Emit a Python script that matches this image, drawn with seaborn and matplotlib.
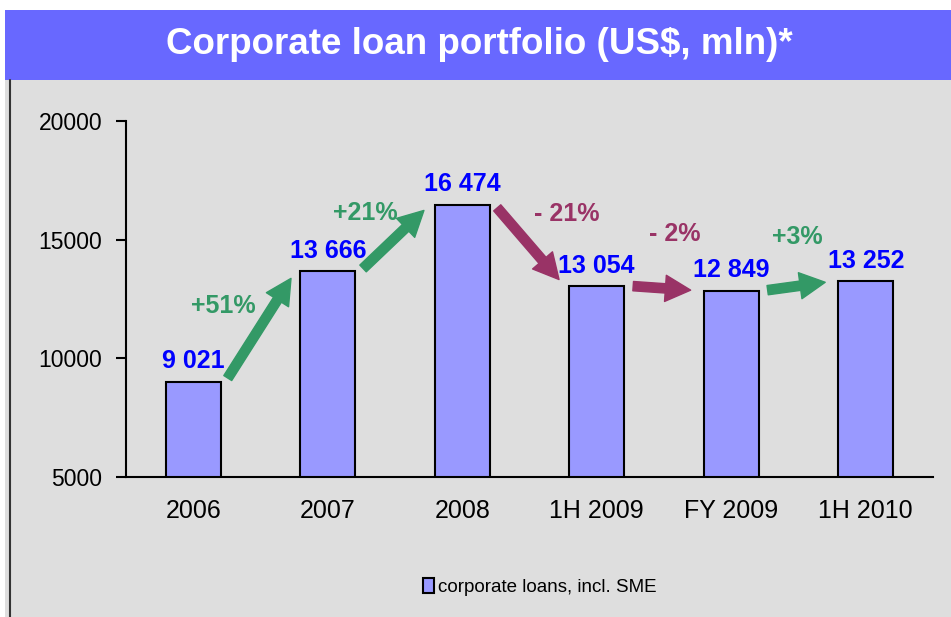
import numpy as np
import pandas as pd
import matplotlib
matplotlib.use("Agg")
import matplotlib.pyplot as plt
from matplotlib.patches import Rectangle
import seaborn as sns

# data
periods = ["2006", "2007", "2008", "1H 2009", "FY 2009", "1H 2010"]
loans = [9021, 13666, 16474, 13054, 12849, 13252]
series_name = "corporate loans, incl. SME"

# label offsets for the growth annotations (x shift from left bar, y above higher bar)
growth_dx = [0.22, 0.28, 0.78, 0.58, 0.49]
growth_dy = [-1460, -350, -390, 2180, 1860]

BAR_COLOR = "#9999FF"
UP_COLOR = "#339966"
DOWN_COLOR = "#993366"
VALUE_COLOR = "#0000FF"
BG = "#DEDEDE"

sns.set_style("white")
plt.rcParams["font.family"] = ["Liberation Sans", "DejaVu Sans"]
plt.rcParams["text.color"] = "black"
plt.rcParams["xtick.color"] = "black"
plt.rcParams["ytick.color"] = "black"

fig = plt.figure(figsize=(9.51, 6.17), dpi=100)
fig.patch.set_facecolor(BG)
# white strip above the banner and title banner
fig.patches.append(Rectangle((0, 1 - 10 / 617), 1, 10 / 617, transform=fig.transFigure,
                             facecolor="white", edgecolor="none", zorder=0))
fig.patches.append(Rectangle((5 / 951, 1 - 80 / 617), 1, 70 / 617, transform=fig.transFigure,
                             facecolor="#6868FF", edgecolor="none", zorder=1))
fig.patches.append(Rectangle((0, 0), 5 / 951, 1 - 10 / 617, transform=fig.transFigure,
                             facecolor="white", edgecolor="none", zorder=0))
fig.lines.append(plt.Line2D([10 / 951, 10 / 951], [0, 1 - 80 / 617], transform=fig.transFigure,
                            color="#333333", lw=1.5))
fig.text(479 / 951, 1 - 45 / 617, "Corporate loan portfolio (US$, mln)*", color="white",
         fontsize=26.5, fontweight="bold", ha="center", va="center")

ax = fig.add_axes([126 / 951, 1 - 477 / 617, (933 - 126) / 951, (477 - 121) / 617])
ax.set_facecolor("none")

df = pd.DataFrame({"period": periods, "loans": loans})
sns.barplot(data=df, x="period", y="loans", color=BAR_COLOR, width=0.41,
            edgecolor="black", linewidth=1.5, saturation=1, ax=ax)

ax.set_ylim(5000, 20000)
ax.set_xlim(-0.5, len(periods) - 0.5)
ax.set_yticks([5000, 10000, 15000, 20000])
ax.set_xlabel("")
ax.set_ylabel("")
for s in ["top", "right"]:
    ax.spines[s].set_visible(False)
for s in ["left", "bottom"]:
    ax.spines[s].set_color("black")
    ax.spines[s].set_linewidth(1.5)
ax.tick_params(axis="y", left=True, direction="out", length=7, width=1.5, labelsize=16.5,
               pad=10, colors="black")
ax.tick_params(axis="x", bottom=False, length=0, labelsize=18, pad=16, colors="black")

# value labels
for i, v in enumerate(loans):
    ax.text(i, v + 350, f"{v:,}".replace(",", " "), ha="center", va="bottom",
            fontsize=18, fontweight="bold", color=VALUE_COLOR)

# growth arrows and labels
for i in range(len(loans) - 1):
    a, b = loans[i], loans[i + 1]
    pct = round((b / a - 1) * 100)
    color = UP_COLOR if pct >= 0 else DOWN_COLOR
    txt = f"+{pct}%" if pct >= 0 else f"- {abs(pct)}%"
    ax.annotate("", xy=(i + 0.76, b), xytext=(i + 0.24, a),
                arrowprops=dict(arrowstyle="simple,head_length=1.3,head_width=1.35,tail_width=0.48",
                                color=color, mutation_scale=14, shrinkA=3, shrinkB=6))
    ax.text(i + growth_dx[i], max(a, b) + growth_dy[i], txt, ha="center", va="center",
            fontsize=18, fontweight="bold", color=color)

swatch = Rectangle((0, 0), 1, 1, facecolor=BAR_COLOR, edgecolor="black", linewidth=1.5)
fig.legend(handles=[swatch], labels=[series_name], loc="center",
           bbox_to_anchor=(540 / 951, 1 - 587 / 617), frameon=False, fontsize=13.5,
           handlelength=0.6, handleheight=0.9, handletextpad=0.2)

fig.savefig("out.png", dpi=100, facecolor=fig.get_facecolor())
